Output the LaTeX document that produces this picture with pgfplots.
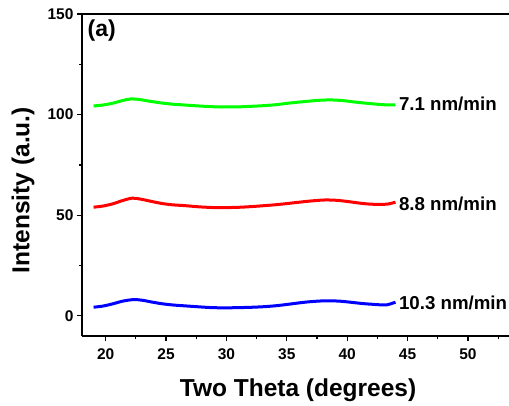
\documentclass[border=0pt]{standalone}
\usepackage{fontspec}
\setmainfont{Liberation Sans}
\usepackage{pgfplots}
\pgfplotsset{compat=1.18}

% XRD patterns for three deposition rates (vertically offset)
\pgfplotstableread{
x y
19.0 104.3
19.8 104.8
20.6 105.7
21.4 107.0
22.1 107.8
22.8 107.5
23.6 106.7
24.5 105.9
25.5 105.2
26.5 104.8
27.7 104.3
29.0 103.9
30.0 103.8
31.2 103.9
32.3 104.2
33.2 104.5
34.2 105.0
35.3 105.8
36.5 106.5
37.6 107.1
38.6 107.3
39.6 107.0
40.7 106.2
41.7 105.6
42.8 105.0
43.5 104.8
44.0 104.8
}\rateA

\pgfplotstableread{
x y
19.0 54.0
19.8 54.6
20.6 55.7
21.4 57.3
22.2 58.5
22.9 58.0
23.7 57.0
24.6 55.9
25.5 55.2
26.5 54.8
27.7 54.2
29.0 53.8
30.0 53.8
31.2 54.0
32.3 54.4
33.2 54.8
34.2 55.3
35.3 56.0
36.5 56.8
37.4 57.3
38.2 57.6
39.2 57.4
40.2 56.7
41.2 55.9
42.0 55.5
42.8 55.4
43.4 55.6
44.0 56.5
}\rateB

\pgfplotstableread{
x y
19.0 4.3
19.8 4.9
20.6 6.0
21.4 7.3
22.3 8.1
23.0 7.8
23.8 6.9
24.7 6.0
25.6 5.4
26.5 5.0
27.7 4.5
28.8 4.1
29.9 4.0
31.0 4.1
32.2 4.3
33.2 4.6
34.2 5.1
35.3 5.9
36.5 6.8
37.5 7.3
38.4 7.5
39.4 7.3
40.4 6.7
41.3 6.1
42.0 5.8
42.7 5.5
43.3 5.5
44.0 6.8
}\rateC

\begin{document}
\begin{tikzpicture}
\begin{axis}[
  at={(0pt,0pt)}, anchor=south west,
  scale only axis, width=427pt, height=322pt,
  xmin=18.04, xmax=53.4, ymin=-10, ymax=150,
  axis x line*=bottom, axis y line*=left,
  axis line style={line width=1.2pt, -},
  xtick={20,25,...,50}, minor xtick={22.5,27.5,...,52.5},
  ytick={0,50,100,150}, minor ytick={25,75,125},
  xtick pos=bottom, ytick pos=left,
  tick align=outside,
  major tick length=5pt, minor tick length=3pt,
  tick style={black, line width=1.2pt},
  /pgf/number format/assume math mode=true,
  ticklabel style={font=\fontsize{15.5}{18}\selectfont\bfseries},
  xticklabel style={yshift=-4pt},
  xlabel={Two Theta (degrees)},
  ylabel={Intensity (a.u.)},
  every axis x label/.style={at={(axis description cs:0.506,-0.189)}, anchor=base,
    font=\fontsize{24.5}{28}\selectfont\bfseries},
  every axis y label/.style={at={(axis description cs:-0.138,0.453)}, rotate=90, anchor=center,
    font=\fontsize{24.5}{28}\selectfont\bfseries},
  clip=false,
]
\draw[line width=1.2pt] (rel axis cs:0,1) -- (rel axis cs:1,1);

\addplot[line width=3pt, color={rgb,255:red,0;green,255;blue,0}, smooth] table[x=x,y=y] {\rateA};
\addplot[line width=3pt, color={rgb,255:red,255;green,0;blue,0}, smooth] table[x=x,y=y] {\rateB};
\addplot[line width=3pt, color={rgb,255:red,0;green,0;blue,255}, smooth] table[x=x,y=y] {\rateC};

\node[anchor=west, font=\fontsize{18.7}{22}\selectfont\bfseries] at (axis cs:44.0,105.2) {7.1 nm/min};
\node[anchor=west, font=\fontsize{18.7}{22}\selectfont\bfseries] at (axis cs:44.0,55.6) {8.8 nm/min};
\node[anchor=west, font=\fontsize{18.7}{22}\selectfont\bfseries] at (axis cs:44.0,6.6) {10.3 nm/min};
\node[font=\fontsize{23}{26}\selectfont\bfseries] at (axis cs:19.67,142) {(a)};
\end{axis}
\pgfresetboundingbox
\path[use as bounding box] (-82pt,-69pt) rectangle (427pt,336pt);
\end{tikzpicture}
\end{document}
